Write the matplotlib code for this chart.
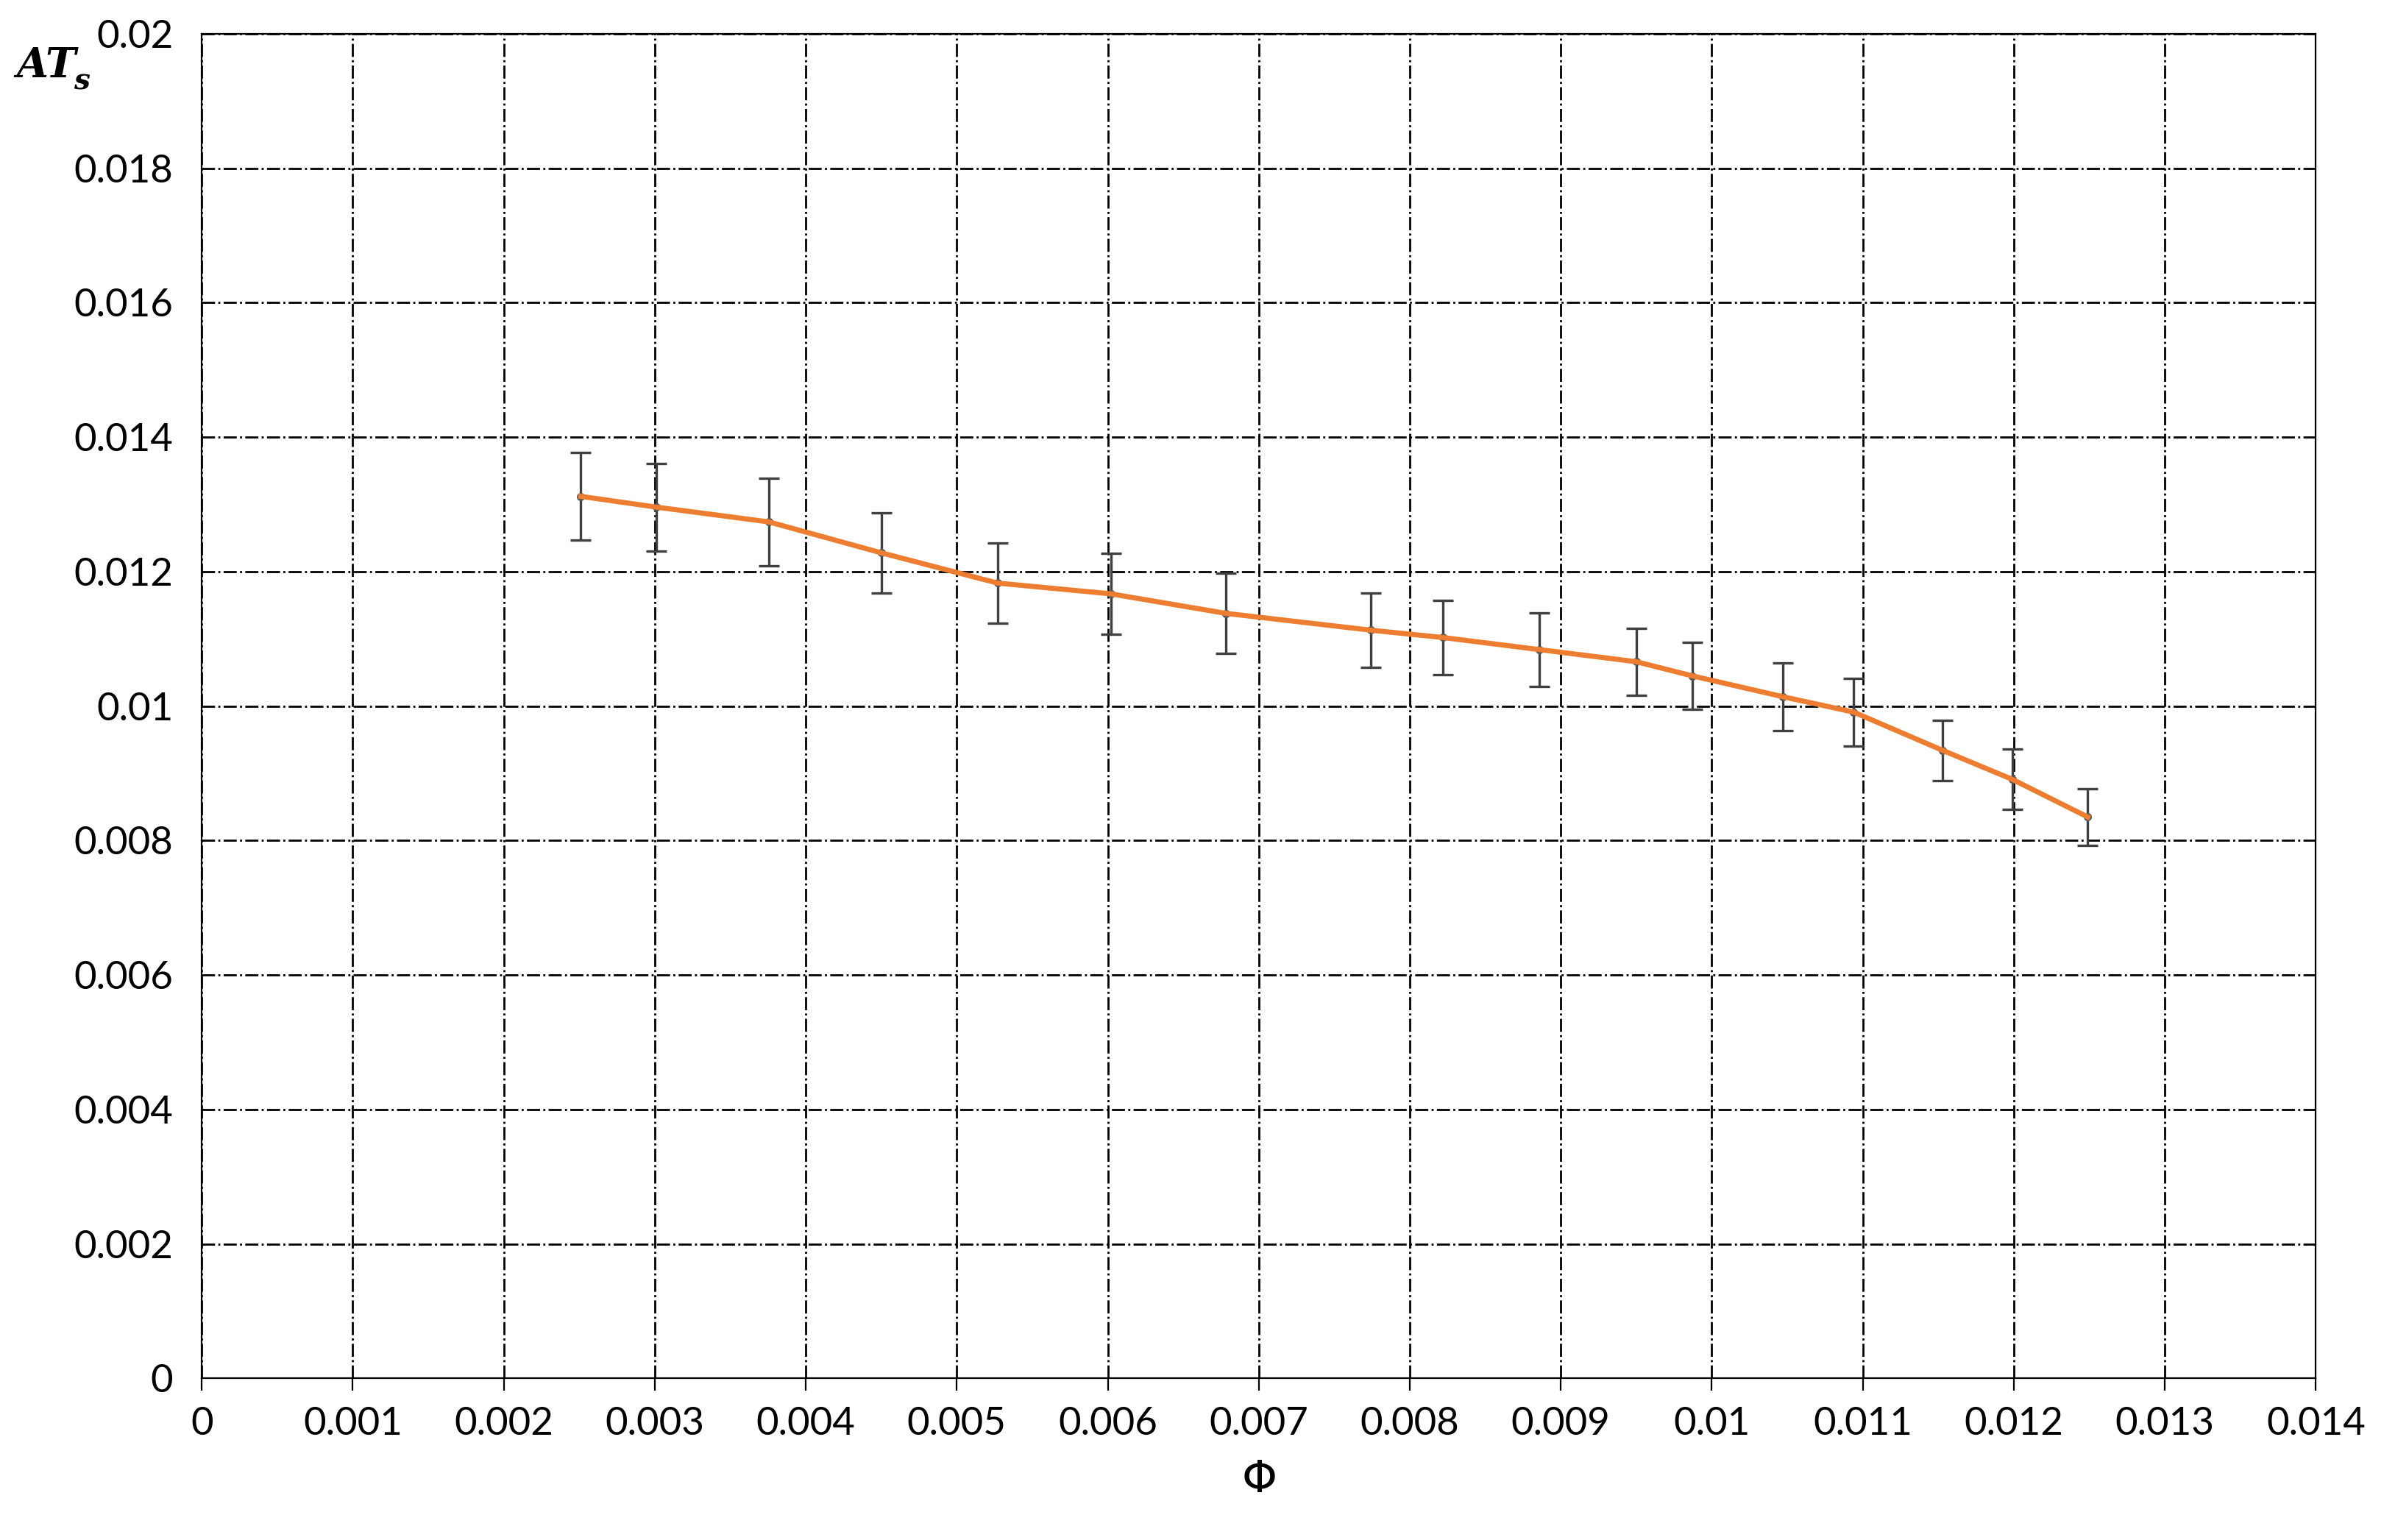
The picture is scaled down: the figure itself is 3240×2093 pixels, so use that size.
import numpy as np
import matplotlib.pyplot as plt

phi = [0.00251, 0.00301, 0.003756, 0.0045, 0.00527, 0.00602, 0.00678, 0.00774, 0.00822,
       0.00886, 0.0095, 0.00987, 0.01047, 0.01094, 0.01153, 0.01199, 0.01249]
ats = [0.01312, 0.01296, 0.01274, 0.01228, 0.01183, 0.01167, 0.01138, 0.01113, 0.01102,
       0.01084, 0.01066, 0.01045, 0.01014, 0.00991, 0.00934, 0.00891, 0.00835]
err = [0.00065, 0.00065, 0.00065, 0.0006, 0.0006, 0.0006, 0.0006, 0.00055, 0.00055,
       0.00055, 0.0005, 0.0005, 0.0005, 0.0005, 0.00045, 0.00045, 0.00042]

plt.rcParams['font.family'] = ['Lato', 'DejaVu Sans']
fig = plt.figure(figsize=(16.205, 10.465), dpi=200)
ax = fig.add_axes([0.0846, 0.105, 0.8865, 0.873])

ax.errorbar(phi, ats, yerr=err, fmt='o', ms=3, color='#595959', ecolor='#404040',
            elinewidth=1.2, capsize=5, capthick=1.2, zorder=3)
ax.plot(phi, ats, color='#ED7D31', lw=2.5, zorder=4)

ax.set_xlim(0, 0.014)
ax.set_ylim(0, 0.02)
xt = np.arange(0, 0.0141, 0.001)
yt = np.arange(0, 0.0201, 0.002)
ax.set_xticks(xt)
ax.set_yticks(yt)
ax.set_xticklabels(['0'] + ['%g' % round(v, 3) for v in xt[1:]])
ax.set_yticklabels(['0'] + ['%g' % round(v, 3) for v in yt[1:]])
ax.tick_params(labelsize=19, length=6, direction='out', pad=8)
ax.tick_params(axis='y', length=0, pad=14)
ax.grid(True, color='black', linestyle='-.', lw=1.0)
for s in ax.spines.values():
    s.set_color('black')

ax.set_xlabel(r'$\Phi$', fontsize=22, family='DejaVu Serif', labelpad=8)
fig.text(0.007, 0.95, 'AT', fontsize=20, family='DejaVu Serif', style='italic', weight='bold')
fig.text(0.031, 0.942, 's', fontsize=14, family='DejaVu Serif', style='italic', weight='bold')

fig.savefig('out.png', dpi=200)
